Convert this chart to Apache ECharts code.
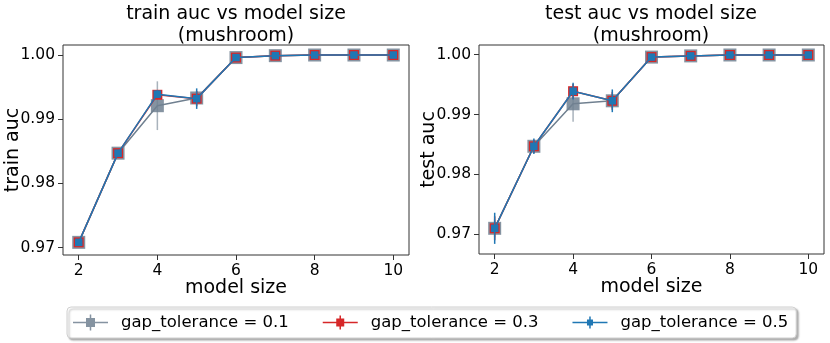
<!DOCTYPE html>
<html>
<head>
<meta charset="utf-8">
<script src="https://cdn.jsdelivr.net/npm/echarts@6/dist/echarts.min.js"></script>
<style>
  html, body { margin: 0; padding: 0; background: #fff; }
  #chart { width: 830px; height: 343px; }
</style>
</head>
<body>
<div id="chart"></div>
<script>
// model sizes on the x axis
var sizes = [2, 3, 4, 5, 6, 7, 8, 9, 10];
var xTicks = [2, 4, 6, 8, 10];
var yTicks = [0.97, 0.98, 0.99, 1.00];

// train auc (mean) per gap tolerance
var trainG1 = [0.9708, 0.9847, 0.9921, 0.9933, 0.9996, 0.9999, 1.0000, 1.0000, 1.0000];
var trainG3 = [0.9708, 0.9847, 0.9938, 0.9932, 0.9996, 0.9999, 1.0000, 1.0000, 1.0000];
var trainG5 = [0.9708, 0.9847, 0.9939, 0.9932, 0.9996, 0.9999, 1.0000, 1.0000, 1.0000];
// train auc error (half width)
var trainErrG1 = [0.0001, 0.0003, 0.0038, 0.0008, 0.0001, 0.0001, 0, 0, 0];
var trainErrG3 = [0.0001, 0.0003, 0.0006, 0.0012, 0.0001, 0.0001, 0, 0, 0];
var trainErrG5 = [0.0001, 0.0003, 0.0006, 0.0016, 0.0001, 0.0001, 0, 0, 0];

// test auc (mean) per gap tolerance
var testG1 = [0.9710, 0.9847, 0.9918, 0.9923, 0.9996, 0.9998, 0.99995, 0.99995, 0.99995];
var testG3 = [0.9710, 0.9847, 0.9939, 0.9923, 0.9996, 0.9998, 0.99995, 0.99995, 0.99995];
var testG5 = [0.9710, 0.9847, 0.9939, 0.9923, 0.9996, 0.9998, 0.99995, 0.99995, 0.99995];
// test auc error (half width)
var testErrG1 = [0.0015, 0.0010, 0.0030, 0.0012, 0.0001, 0.0001, 0, 0, 0];
var testErrG3 = [0.0020, 0.0011, 0.0012, 0.0015, 0.0001, 0.0001, 0, 0, 0];
var testErrG5 = [0.0026, 0.0013, 0.0014, 0.0019, 0.0001, 0.0001, 0, 0, 0];

var names = ['gap_tolerance = 0.1', 'gap_tolerance = 0.3', 'gap_tolerance = 0.5'];

var FONT = 'DejaVu Sans';
var cGray = '#708090', cRed = '#d62728', cBlue = '#1f77b4';

function pts(ys) {
  return sizes.map(function (x, i) { return [x, ys[i]]; });
}
function errs(ys, es) {
  return sizes.map(function (x, i) { return [x, ys[i] - es[i], ys[i] + es[i]]; });
}

function errSeries(idx, ys, es, color, opacity, z) {
  return {
    type: 'custom',
    name: 'err' + idx + color,
    xAxisIndex: idx, yAxisIndex: idx,
    data: errs(ys, es),
    z: z,
    silent: true,
    renderItem: function (params, api) {
      var lo = api.coord([api.value(0), api.value(1)]);
      var hi = api.coord([api.value(0), api.value(2)]);
      return {
        type: 'line',
        shape: { x1: lo[0], y1: lo[1], x2: hi[0], y2: hi[1] },
        style: { stroke: color, lineWidth: 1.5, opacity: opacity }
      };
    }
  };
}

function lineSeries(idx, name, ys, color, size, z, markOpacity) {
  return {
    type: 'line',
    name: name,
    xAxisIndex: idx, yAxisIndex: idx,
    data: pts(ys),
    symbol: 'rect',
    symbolSize: size,
    showAllSymbol: true,
    z: z,
    lineStyle: { color: color, width: 1.5 },
    itemStyle: { color: color, opacity: markOpacity },
    animation: false
  };
}

// legend handles: line + square marker + vertical error bar
function handle(sq, bar) {
  var cx = 17.5, cy = 8;
  var h = sq / 2, b = bar / 2;
  return 'path://M0,7.3 L35,7.3 L35,8.7 L0,8.7 Z ' +
    'M' + (cx - h) + ',' + (cy - h) + ' L' + (cx + h) + ',' + (cy - h) + ' L' + (cx + h) + ',' + (cy + h) + ' L' + (cx - h) + ',' + (cy + h) + ' Z ' +
    'M' + (cx - 0.75) + ',' + (cy - b) + ' L' + (cx + 0.75) + ',' + (cy - b) + ' L' + (cx + 0.75) + ',' + (cy + b) + ' L' + (cx - 0.75) + ',' + (cy + b) + ' Z';
}

function xAxisOpt(idx) {
  return {
    type: 'value', gridIndex: idx, min: 1.6, max: 10.4,
    name: 'model size', nameLocation: 'middle', nameGap: 24, nameMoveOverlap: false,
    nameTextStyle: { fontFamily: FONT, fontSize: 19, color: '#000' },
    axisLine: { show: false },
    axisTick: { show: true, customValues: xTicks, length: 5, lineStyle: { color: '#333' } },
    axisLabel: { customValues: xTicks, fontFamily: FONT, fontSize: 15.5, color: '#000', margin: 8 },
    splitLine: { show: false }
  };
}
function yAxisOpt(idx, name, min, max) {
  return {
    type: 'value', gridIndex: idx, min: min, max: max,
    name: name, nameLocation: 'middle', nameGap: 40, nameMoveOverlap: false,
    nameTextStyle: { fontFamily: FONT, fontSize: 19, color: '#000' },
    axisLine: { show: false },
    axisTick: { show: true, customValues: yTicks, length: 5, lineStyle: { color: '#333' } },
    axisLabel: {
      customValues: yTicks, fontFamily: FONT, fontSize: 15.5, color: '#000', margin: 8,
      formatter: function (v) { return v.toFixed(2); }
    },
    splitLine: { show: false }
  };
}

var chart = echarts.init(document.getElementById('chart'), null, { renderer: 'canvas' });

var titleStyle = { fontFamily: FONT, fontSize: 19, fontWeight: 'normal', color: '#000', lineHeight: 22, align: 'center' };

chart.setOption({
  animation: false,
  title: [
    { text: 'train auc vs model size\n(mushroom)', left: 236, top: 3, textAlign: 'center', textStyle: titleStyle, padding: 0 },
    { text: 'test auc vs model size\n(mushroom)', left: 651, top: 3, textAlign: 'center', textStyle: titleStyle, padding: 0 }
  ],
  grid: [
    { left: 63, top: 45, width: 346, height: 210, show: true, borderColor: '#333', borderWidth: 1, backgroundColor: '#fff' },
    { left: 479, top: 45, width: 345, height: 209, show: true, borderColor: '#333', borderWidth: 1, backgroundColor: '#fff' }
  ],
  xAxis: [xAxisOpt(0), xAxisOpt(1)],
  yAxis: [yAxisOpt(0, 'train auc', 0.96883, 1.00156), yAxisOpt(1, 'test auc', 0.96671, 1.00162)],
  legend: {
    left: 67, top: 307,
    padding: [7, 8, 7, 6],
    itemWidth: 35, itemHeight: 16,
    itemGap: 34,
    backgroundColor: '#fff',
    borderColor: '#d0d0d0', borderWidth: 1, borderRadius: 4,
    shadowColor: 'rgba(0,0,0,0.3)', shadowBlur: 2, shadowOffsetX: 2, shadowOffsetY: 2,
    textStyle: { fontFamily: FONT, fontSize: 16.5, color: '#000', padding: [0, 0, 0, 8] },
    data: [
      { name: names[0], icon: handle(9, 16), itemStyle: { color: cGray } },
      { name: names[1], icon: handle(8, 14), itemStyle: { color: cRed } },
      { name: names[2], icon: handle(6, 12), itemStyle: { color: cBlue } }
    ]
  },
  series: [
    errSeries(0, trainG1, trainErrG1, cGray, 0.6, 2),
    lineSeries(0, names[0], trainG1, cGray, 13, 3, 0.85),
    errSeries(0, trainG3, trainErrG3, cRed, 1, 4),
    lineSeries(0, names[1], trainG3, cRed, 10, 5, 1),
    errSeries(0, trainG5, trainErrG5, cBlue, 1, 6),
    lineSeries(0, names[2], trainG5, cBlue, 7.5, 7, 1),

    errSeries(1, testG1, testErrG1, cGray, 0.6, 2),
    lineSeries(1, names[0], testG1, cGray, 13, 3, 0.85),
    errSeries(1, testG3, testErrG3, cRed, 1, 4),
    lineSeries(1, names[1], testG3, cRed, 10, 5, 1),
    errSeries(1, testG5, testErrG5, cBlue, 1, 6),
    lineSeries(1, names[2], testG5, cBlue, 7.5, 7, 1)
  ]
});
</script>
</body>
</html>
